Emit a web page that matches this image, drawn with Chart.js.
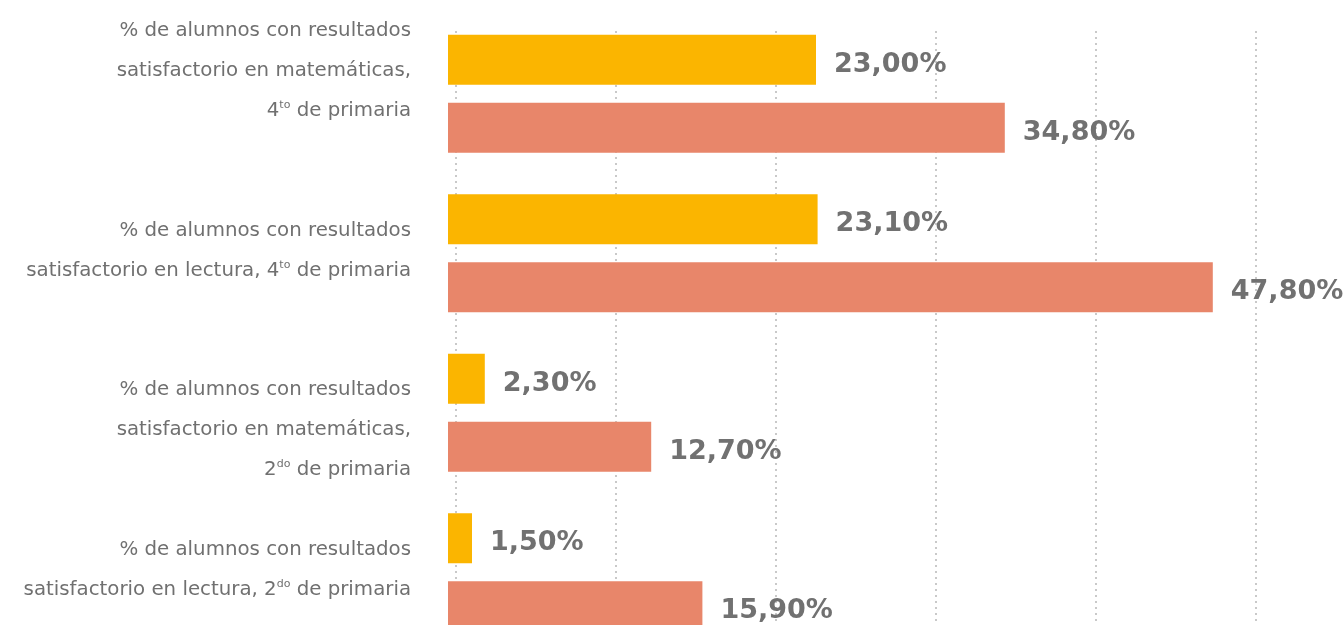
<!DOCTYPE html>
<html><head><meta charset="utf-8">
<script src="https://cdn.jsdelivr.net/npm/chart.js@4"></script>
<style>html,body{margin:0;padding:0;background:#fff;overflow:hidden}#wrap{width:1343px;height:666px;position:relative}</style>
</head><body><div id="wrap"><canvas id="c"></canvas></div>
<script>
// ---- data ----
const categories = [
  ['% de alumnos con resultados', 'satisfactorio en matemáticas,', '4^to^ de primaria'],
  ['% de alumnos con resultados', 'satisfactorio en lectura, 4^to^ de primaria'],
  ['% de alumnos con resultados', 'satisfactorio en matemáticas,', '2^do^ de primaria'],
  ['% de alumnos con resultados', 'satisfactorio en lectura, 2^do^ de primaria']
];
const seriesYellow = [23.0, 23.1, 2.3, 1.5];
const seriesSalmon = [34.8, 47.8, 12.7, 15.9];
const gridTicks = [0, 10, 20, 30, 40, 50];

// ---- style ----
const labelDy = [-18, 2.5, 22, 2.5];
const LABEL_FONT = 19.8;
const LABEL_FAMILY = '"DejaVu Sans", sans-serif';
const LABEL_COLOR = '#707070';
const VALUE_FONT = 'bold 27px "DejaVu Sans", sans-serif';
const VALUE_COLOR = '#717171';

const fmt = v => v.toFixed(2).replace('.', ',') + '%';

function drawRich(ctx, line, xRight, yBase) {
  const parts = line.split('^');
  const segs = parts.map((t, i) => ({ t, sup: i % 2 === 1 }));
  const base = LABEL_FONT + 'px ' + LABEL_FAMILY;
  const sup = Math.round(LABEL_FONT * 0.55) + 'px ' + LABEL_FAMILY;
  let w = 0;
  segs.forEach(s => { ctx.font = s.sup ? sup : base; s.w = ctx.measureText(s.t).width; w += s.w; });
  let x = xRight - w;
  segs.forEach(s => {
    ctx.font = s.sup ? sup : base;
    ctx.fillText(s.t, x, s.sup ? yBase - LABEL_FONT * 0.4 : yBase);
    x += s.w;
  });
}

const decor = {
  id: 'decor',
  beforeDatasetsDraw(chart) {
    const ctx = chart.ctx, sx = chart.scales.x2, area = chart.chartArea;
    ctx.save();
    ctx.strokeStyle = '#c9c9c9';
    ctx.lineWidth = 2;
    ctx.setLineDash([2, 4]);
    gridTicks.forEach(v => {
      const px = Math.round(sx.getPixelForValue(v));
      ctx.beginPath();
      ctx.moveTo(px, 31);
      ctx.lineTo(px, area.bottom);
      ctx.stroke();
    });
    ctx.restore();
  },
  afterDatasetsDraw(chart) {
    const ctx = chart.ctx;
    ctx.save();
    // value labels
    ctx.fillStyle = VALUE_COLOR;
    ctx.font = VALUE_FONT;
    ctx.textAlign = 'left';
    ctx.textBaseline = 'alphabetic';
    chart.data.datasets.forEach((ds, di) => {
      chart.getDatasetMeta(di).data.forEach((bar, i) => {
        ctx.fillText(fmt(ds.data[i]), bar.x + 18, bar.y + 12);
      });
    });
    // category labels
    ctx.fillStyle = LABEL_COLOR;
    const ys = chart.scales.y;
    categories.forEach((lines, i) => {
      const c = ys.getPixelForValue(i) + labelDy[i];
      const n = lines.length;
      lines.forEach((ln, k) => {
        drawRich(ctx, ln, 411, c + (k - (n - 1) / 2) * 40);
      });
    });
    ctx.restore();
  }
};

const XMAX = 55.9375;
new Chart(document.getElementById('c'), {
  type: 'bar',
  data: {
    labels: categories.map((c, i) => 'c' + i),
    datasets: [
      { data: seriesYellow, backgroundColor: '#FBB500', borderWidth: 0 },
      { data: seriesSalmon, backgroundColor: '#E8866A', borderWidth: 0 }
    ]
  },
  options: {
    indexAxis: 'y',
    responsive: true,
    maintainAspectRatio: false,
    animation: false,
    devicePixelRatio: 1,
    categoryPercentage: 0.8527,
    barPercentage: 0.735,
    layout: { padding: { left: 448, right: 0, top: 14, bottom: 14 } },
    scales: {
      x: { type: 'linear', min: 0, max: XMAX, display: false },
      x2: { type: 'linear', axis: 'x', position: 'bottom', min: -0.5, max: XMAX - 0.5, display: false },
      y: { type: 'category', display: false, offset: true }
    },
    plugins: { legend: { display: false }, tooltip: { enabled: false } }
  },
  plugins: [decor]
});
</script>
</body></html>
